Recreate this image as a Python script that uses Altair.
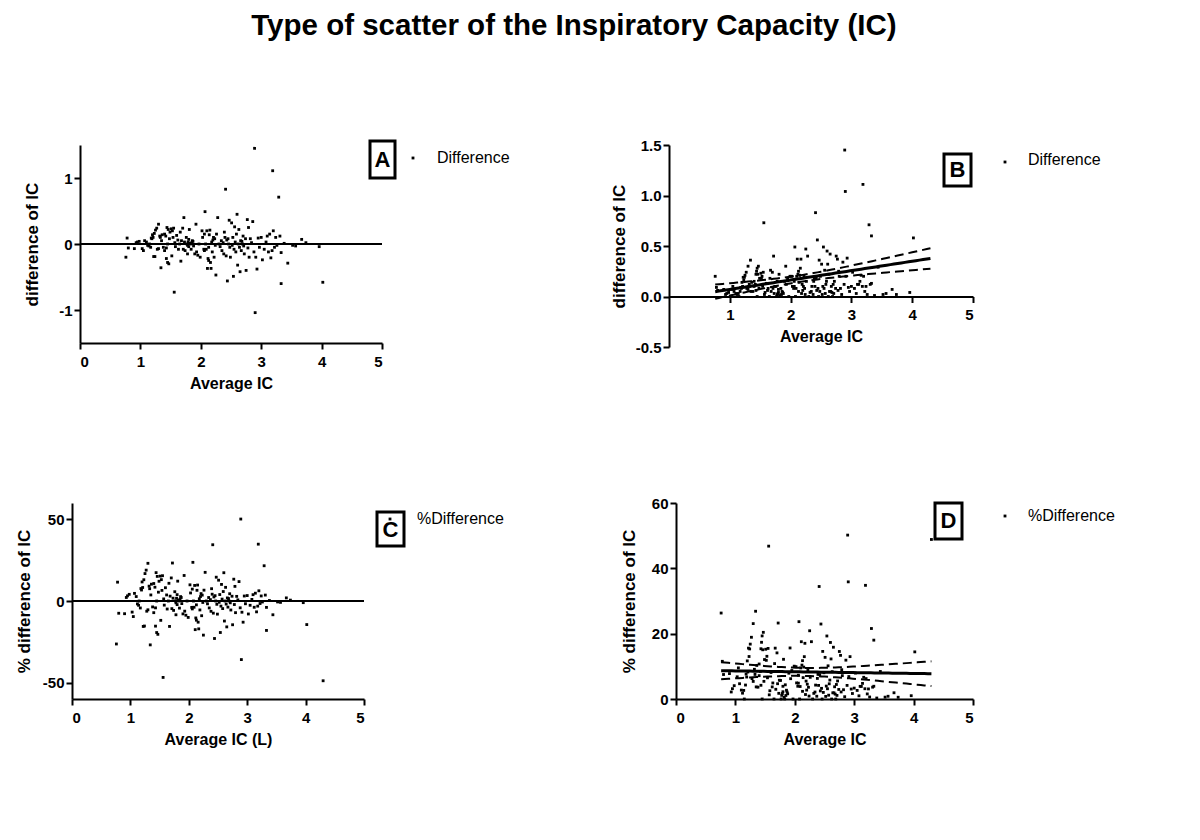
import altair as alt
import numpy as np
import pandas as pd

FONT = "Liberation Sans"

# Average IC (L) and difference of IC (L)
avg_ic = [0.76, 0.78, 0.80, 0.90, 0.93, 0.95, 0.98, 1.03, 1.05, 1.07, 1.10, 1.12, 1.14, 1.15, 1.17, 1.18,
          1.19, 1.20, 1.21, 1.22, 1.23, 1.24, 1.25, 1.27, 1.28, 1.30, 1.30, 1.32, 1.33, 1.34, 1.35, 1.36,
          1.38, 1.40, 1.40, 1.42, 1.43, 1.43, 1.44, 1.45, 1.45, 1.46, 1.47, 1.48, 1.49, 1.51, 1.52, 1.53,
          1.54, 1.55, 1.56, 1.57, 1.58, 1.60, 1.62, 1.63, 1.65, 1.66, 1.67, 1.68, 1.70, 1.71, 1.72, 1.73,
          1.74, 1.76, 1.77, 1.78, 1.78, 1.79, 1.80, 1.80, 1.81, 1.82, 1.83, 1.84, 1.85, 1.86, 1.87, 1.88,
          1.90, 1.92, 1.93, 1.95, 1.97, 1.99, 2.02, 2.03, 2.05, 2.06, 2.06, 2.07, 2.08, 2.09, 2.10, 2.11,
          2.12, 2.13, 2.13, 2.14, 2.15, 2.16, 2.17, 2.18, 2.19, 2.20, 2.21, 2.22, 2.23, 2.24, 2.25, 2.26,
          2.28, 2.30, 2.32, 2.34, 2.35, 2.37, 2.38, 2.39, 2.40, 2.41, 2.42, 2.43, 2.44, 2.45, 2.46, 2.47,
          2.48, 2.49, 2.51, 2.52, 2.53, 2.54, 2.55, 2.56, 2.57, 2.58, 2.59, 2.60, 2.61, 2.62, 2.63, 2.64,
          2.65, 2.66, 2.67, 2.68, 2.69, 2.70, 2.71, 2.72, 2.74, 2.75, 2.77, 2.78, 2.79, 2.80, 2.82, 2.84,
          2.86, 2.88, 2.89, 2.90, 2.91, 2.93, 2.95, 2.97, 3.00, 3.02, 3.05, 3.08, 3.10, 3.12, 3.14, 3.16,
          3.18, 3.19, 3.20, 3.22, 3.24, 3.26, 3.29, 3.31, 3.33, 3.33, 3.38, 3.44, 3.52, 3.57, 3.67, 3.74,
          3.96, 4.02, 4.30]
diff_ic = [-0.20, 0.09, -0.06, -0.07, 0.02, 0.03, 0.04, -0.07, -0.10, 0.05, 0.03, -0.02, -0.03, 0.00, -0.05, 0.09,
           0.08, 0.14, 0.10, -0.19, 0.16, -0.19, 0.21, 0.24, -0.08, -0.07, 0.30, 0.12, 0.10, -0.36, 0.05, 0.14,
           -0.05, 0.15, -0.10, 0.12, -0.22, -0.06, 0.25, -0.28, 0.00, 0.22, -0.30, 0.08, 0.18, 0.23, -0.18, 0.20,
           0.10, 0.24, -0.73, 0.02, -0.04, 0.13, 0.06, -0.08, 0.00, 0.18, -0.26, 0.05, 0.24, -0.08, 0.40, 0.03,
           -0.10, 0.10, 0.00, -0.02, -0.15, 0.03, 0.07, -0.04, 0.22, 0.01, 0.00, -0.08, 0.02, 0.05, 0.04, -0.03,
           -0.15, 0.30, -0.12, -0.17, 0.00, -0.20, 0.20, 0.10, -0.08, 0.15, -0.10, 0.49, 0.00, -0.08, 0.20, -0.37,
           -0.22, -0.05, -0.25, 0.14, 0.21, -0.28, -0.37, 0.03, -0.12, 0.06, 0.10, -0.20, 0.08, -0.02, -0.47, 0.15,
           0.40, 0.00, -0.04, 0.05, -0.10, 0.02, -0.15, 0.18, 0.10, 0.83, -0.18, 0.06, -0.56, 0.08, 0.00, 0.36,
           -0.05, -0.20, 0.32, -0.02, 0.10, -0.49, -0.08, 0.26, 0.03, -0.12, 0.15, 0.45, -0.32, 0.00, 0.22, -0.05,
           -0.42, 0.05, -0.10, 0.04, 0.00, 0.12, -0.03, -0.15, 0.08, -0.40, 0.37, -0.06, 0.25, -0.20, 0.08, 0.02,
           0.34, -0.12, 1.45, -1.04, -0.20, -0.38, 0.09, -0.05, 0.10, -0.24, -0.08, 0.03, 0.12, -0.12, 0.15, -0.21,
           -0.10, 1.11, 0.20, -0.05, 0.10, -0.02, 0.71, 0.12, -0.60, -0.13, 0.01, -0.29, -0.02, -0.03, 0.07, 0.02,
           -0.04, -0.58, -2.10]

x = np.array(avg_ic)
d = np.array(diff_ic)
pct = d / x * 100.0  # % difference = difference / average x 100
df = pd.DataFrame({"avg": x, "diff": d, "absdiff": np.abs(d), "pct": pct, "abspct": np.abs(pct)})


def band(xv, yv):
    n = len(xv)
    xb = xv.mean()
    sxx = ((xv - xb) ** 2).sum()
    b1 = ((xv - xb) * (yv - yv.mean())).sum() / sxx
    b0 = yv.mean() - b1 * xb
    res = yv - (b0 + b1 * xv)
    s = np.sqrt((res ** 2).sum() / (n - 2))
    xs = np.linspace(xv.min(), xv.max(), 60)
    fit = b0 + b1 * xs
    se = s * np.sqrt(1.0 / n + (xs - xb) ** 2 / sxx)
    t = 1.97
    return pd.DataFrame({"avg": xs, "fit": fit, "lo": fit - t * se, "hi": fit + t * se})


fitB = band(x, np.abs(d))
fitD = band(x, np.abs(pct))

MINUS = "replace(datum.label, '\u2212', '-')"
xscale = alt.Scale(domain=[0, 5], nice=False, zero=False)
PT = 8


def xaxis(title, values, offset=0):
    return alt.Axis(title=title, values=values, format="d", labelExpr=MINUS, offset=offset)


def yaxis(title, values, fmt, tp):
    return alt.Axis(title=title, values=values, format=fmt, labelExpr=MINUS, titlePadding=tp)


def one():
    return alt.Data(values=[{}])


def annotations(letter, box, letter_xy, dot_xy, label, label_xy):
    x0, y0, x1, y1 = box
    rect = alt.Chart(one()).mark_rect(fill="white", stroke="black", strokeWidth=3).encode(
        x=alt.value(x0), x2=alt.value(x1), y=alt.value(y0), y2=alt.value(y1))
    let = alt.Chart(one()).mark_text(text=letter, font=FONT, fontSize=22, fontWeight="bold",
                                     align="center", baseline="middle", color="black").encode(
        x=alt.value(letter_xy[0]), y=alt.value(letter_xy[1]))
    dot = alt.Chart(one()).mark_square(size=PT, color="black", opacity=1).encode(
        x=alt.value(dot_xy[0]), y=alt.value(dot_xy[1]))
    txt = alt.Chart(one()).mark_text(text=label, font=FONT, fontSize=16, align="left",
                                     baseline="middle", color="black").encode(
        x=alt.value(label_xy[0]), y=alt.value(label_xy[1]))
    return [rect, let, dot, txt]


def anchor(x0, y0, y1):
    return alt.Chart(one()).mark_rect(fill="white", opacity=0).encode(
        x=alt.value(x0), x2=alt.value(x0 + 1), y=alt.value(y0), y2=alt.value(y1))


def fit_layers(fit, ysc, yax):
    base = alt.Chart(fit)
    line = base.mark_line(color="black", strokeWidth=3).encode(
        x=alt.X("avg:Q", scale=xscale), y=alt.Y("fit:Q", scale=ysc, axis=yax))
    lo = base.mark_line(color="black", strokeWidth=2, strokeDash=[9, 5]).encode(
        x=alt.X("avg:Q", scale=xscale), y=alt.Y("lo:Q", scale=ysc, axis=yax))
    hi = base.mark_line(color="black", strokeWidth=2, strokeDash=[9, 5]).encode(
        x=alt.X("avg:Q", scale=xscale), y=alt.Y("hi:Q", scale=ysc, axis=yax))
    return [line, lo, hi]


# ---- Panel A
ysA = alt.Scale(domain=[-1.5, 1.5], nice=False, zero=False)
yaA = yaxis("difference of IC", [-1, 0, 1], "d", 17)
xaA = xaxis("Average IC", [0, 1, 2, 3, 4, 5])
ptsA = alt.Chart(df).transform_filter("datum.diff >= -1.5 && datum.diff <= 1.5").mark_square(
    size=PT, color="black", opacity=1).encode(
    x=alt.X("avg:Q", scale=xscale, axis=xaA), y=alt.Y("diff:Q", scale=ysA, axis=yaA))
zeroA = alt.Chart(one()).mark_rule(color="black", strokeWidth=2).encode(y=alt.datum(0))
A = alt.layer(ptsA, zeroA, *annotations("A", (290, -4, 315, 33), (302.5, 15), (333, 13), "Difference", (357, 13)),
              anchor(-67, -15, 260)).properties(width=302, height=198)

# ---- Panel B
ysB = alt.Scale(domain=[-0.5, 1.5], nice=False, zero=False)
yaB = yaxis("difference of IC", [-0.5, 0, 0.5, 1.0, 1.5], ".1f", 7)
xaB = xaxis("Average IC", [1, 2, 3, 4, 5], offset=-50.5)
ptsB = alt.Chart(df).transform_filter("datum.absdiff <= 1.5").mark_square(
    size=PT, color="black", opacity=1).encode(
    x=alt.X("avg:Q", scale=xscale, axis=xaB), y=alt.Y("absdiff:Q", scale=ysB, axis=yaB))
B = alt.layer(ptsB, *fit_layers(fitB, ysB, yaB),
              *annotations("B", (275, 9, 302, 41), (288.5, 25), (336, 17), "Difference", (359, 15))
              ).properties(width=304, height=202)

# ---- Panel C
ysC = alt.Scale(domain=[-60, 60], nice=False, zero=False)
yaC = yaxis("% difference of IC", [-50, 0, 50], "d", 9)
xaC = xaxis("Average IC (L)", [0, 1, 2, 3, 4, 5])
ptsC = alt.Chart(df).mark_square(size=PT, color="black", opacity=1).encode(
    x=alt.X("avg:Q", scale=xscale, axis=xaC), y=alt.Y("pct:Q", scale=ysC, axis=yaC))
zeroC = alt.Chart(one()).mark_rule(color="black", strokeWidth=2).encode(y=alt.datum(0))
C = alt.layer(ptsC, zeroC, *annotations("C", (305, 9, 332, 43), (318.5, 27), (318, 16), "%Difference", (345, 16)),
              anchor(-59, -20, -19)).properties(width=292, height=196)

# ---- Panel D
ysD = alt.Scale(domain=[0, 60], nice=False, zero=False)
yaD = yaxis("% difference of IC", [0, 20, 40, 60], "d", 13)
xaD = xaxis("Average IC", [0, 1, 2, 3, 4, 5])
ptsD = alt.Chart(df).mark_square(size=PT, color="black", opacity=1).encode(
    x=alt.X("avg:Q", scale=xscale, axis=xaD), y=alt.Y("abspct:Q", scale=ysD, axis=yaD))
D = alt.layer(ptsD, *fit_layers(fitD, ysD, yaD),
              *annotations("D", (259, 0, 286, 36), (272.5, 18), (329, 13), "%Difference", (352, 13))
              ).properties(width=297, height=196)

# small invisible spacer so panel A sits 8 px to the right of panel C
spacer = alt.Chart(one()).mark_rect(fill="white", opacity=0).encode(
    x=alt.value(0), x2=alt.value(1), y=alt.value(0), y2=alt.value(1)).properties(width=1, height=1)

row1 = alt.HConcatChart(hconcat=[spacer, alt.hconcat(A, B, spacing=287, bounds="flush")],
                        spacing=7, bounds="flush")
row2 = alt.hconcat(C, D, spacing=312, bounds="flush")

chart = alt.vconcat(row1, row2, spacing=78).properties(
    title=alt.TitleParams(text="Type of scatter of the Inspiratory Capacity (IC)", font=FONT, fontSize=29.5,
                          fontWeight="bold", color="black", anchor="middle", frame="bounds", offset=89, dx=10),
    padding={"left": 5, "top": 2, "right": 5, "bottom": 5},
).configure_view(stroke=None).configure_axis(
    grid=False, domainColor="black", domainWidth=2, tickColor="black", tickWidth=2, tickSize=6,
    labelFont=FONT, labelFontSize=15, labelFontWeight="bold", labelColor="black",
    titleFont=FONT, titleFontWeight="bold", titleColor="black",
).configure_axisX(titleFontSize=16, titlePadding=6, labelPadding=5).configure_axisY(
    titleFontSize=17, labelPadding=2)

chart.save("out.html", embed_options={"renderer": "svg", "actions": False})
